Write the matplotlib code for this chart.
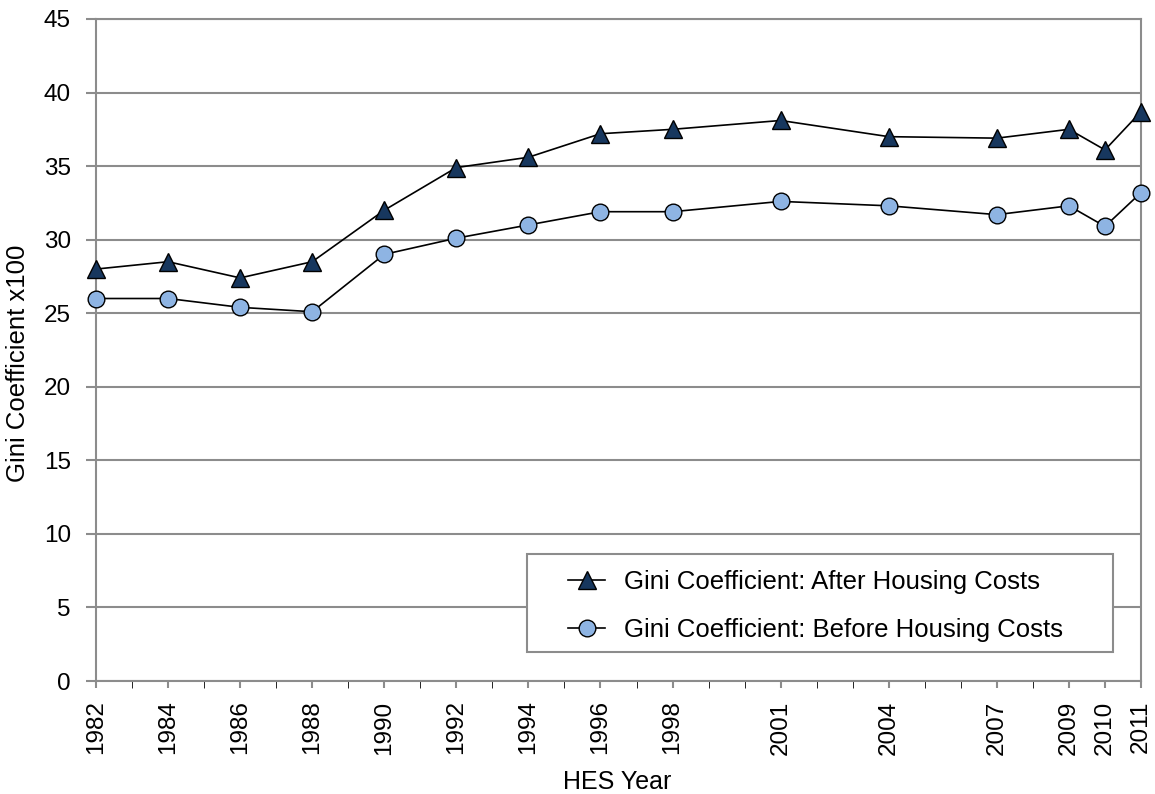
import matplotlib
matplotlib.use('Agg')
import matplotlib.pyplot as plt
from matplotlib.patches import Rectangle
import numpy as np

plt.rcParams['font.family'] = ['Liberation Sans', 'DejaVu Sans']

years = [1982, 1984, 1986, 1988, 1990, 1992, 1994, 1996, 1998, 2001, 2004, 2007, 2009, 2010, 2011]
after_hc = [28.0, 28.5, 27.4, 28.5, 32.0, 34.9, 35.6, 37.2, 37.5, 38.1, 37.0, 36.9, 37.5, 36.1, 38.7]
before_hc = [26.0, 26.0, 25.4, 25.1, 29.0, 30.1, 31.0, 31.9, 31.9, 32.6, 32.3, 31.7, 32.3, 30.9, 33.2]

grey = '#8c8c8c'

fig = plt.figure(figsize=(11.55, 7.94), dpi=100)
ax = fig.add_axes([0.0831, 0.1423, 0.9048, 0.8338])

ax.plot(years, after_hc, '-^', color='black', lw=1.2, markersize=13,
        markerfacecolor='#17375E', markeredgecolor='black', markeredgewidth=1.0,
        label='Gini Coefficient: After Housing Costs', zorder=3, clip_on=False)
ax.plot(years, before_hc, '-o', color='black', lw=1.2, markersize=12,
        markerfacecolor='#8EB4E3', markeredgecolor='black', markeredgewidth=1.0,
        label='Gini Coefficient: Before Housing Costs', zorder=3, clip_on=False)

ax.set_xlim(1982, 2011)
ax.set_ylim(0, 45)
ax.set_yticks(np.arange(0, 46, 5))
ax.set_xticks(years)
ax.set_xticks(np.arange(1982, 2012), minor=True)
ax.set_xticklabels([str(y) for y in years], rotation=90)
ax.tick_params(axis='both', labelsize=17.5, color=grey, width=1.5)
ax.tick_params(axis='y', length=7, pad=11)
ax.tick_params(axis='x', which='both', length=5, pad=9)
ax.yaxis.grid(True, color=grey, lw=1.5)
ax.set_axisbelow(True)
for s in ax.spines.values():
    s.set_color(grey)
    s.set_linewidth(1.5)

ax.set_ylabel('Gini Coefficient x100', fontsize=18.5)
ax.yaxis.set_label_coords(-0.063, 0.48)
ax.set_xlabel('HES Year', fontsize=18)
ax.xaxis.set_label_coords(0.499, -0.135)

# legend box drawn separately so its padding can match the original
frame = Rectangle((0.4124, 0.0438), 0.5608, 0.148, transform=ax.transAxes,
                  facecolor='white', edgecolor=grey, lw=1.5, zorder=4)
ax.add_patch(frame)
leg = ax.legend(loc='center left', bbox_to_anchor=(0.4517, 0.1133), fontsize=18.5,
                frameon=False, handlelength=1.45, borderpad=0,
                labelspacing=0.9, handletextpad=0.72, borderaxespad=0)
leg.set_zorder(5)

fig.savefig('out.png', dpi=100)
